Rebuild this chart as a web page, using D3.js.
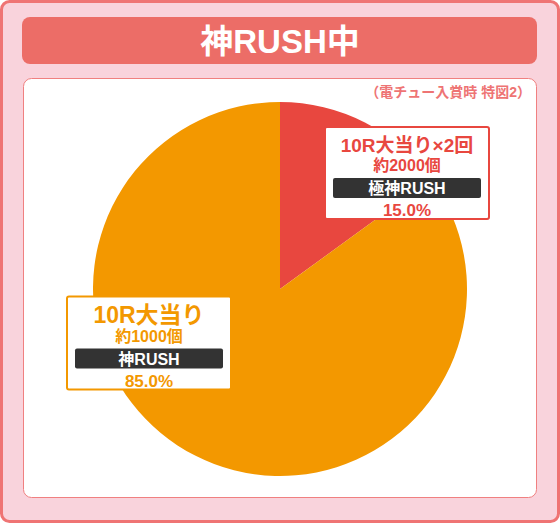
<!DOCTYPE html>
<html lang="ja">
<head>
<meta charset="UTF-8">
<script src="https://d3js.org/d3.v7.min.js"></script>
<title>神RUSH中</title>
<style>
    body { margin: 0; padding: 0; background: #fff; }
    svg { display: block; font-family: "Liberation Sans", "Noto Sans CJK JP", sans-serif; font-weight: 700; }
</style>
</head>
<body>
<svg id="chart" width="560" height="523"></svg>
<script>
    // chart data
    const titleText = "神RUSH中";
    const noteText = "（電チュー入賞時 特図2）";
    const hitNames = ["10R大当り×2回", "10R大当り"];
    const ballCounts = ["約2000個", "約1000個"];
    const rushNames = ["極神RUSH", "神RUSH"];
    const shares = [15.0, 85.0];
    const sliceColors = ["#e8473f", "#f39800"];

    const svg = d3.select("#chart");
    const W = 560, H = 523;

    // outer frame
    svg.append("rect")
        .attr("x", 1.5).attr("y", 1.5)
        .attr("width", W - 3).attr("height", H - 3)
        .attr("rx", 8)
        .attr("fill", "#f9d3dc")
        .attr("stroke", "#ef7474")
        .attr("stroke-width", 3);

    // title bar
    svg.append("rect")
        .attr("x", 22).attr("y", 17)
        .attr("width", 515).attr("height", 47)
        .attr("rx", 8)
        .attr("fill", "#ec6d67");
    svg.append("text")
        .attr("x", 280).attr("y", 53)
        .attr("text-anchor", "middle")
        .attr("fill", "#fff")
        .attr("font-size", 33)
        .text(titleText);

    // white panel
    svg.append("rect")
        .attr("x", 23.5).attr("y", 78.5)
        .attr("width", 513).attr("height", 419)
        .attr("rx", 8)
        .attr("fill", "#fff")
        .attr("stroke", "#f08080")
        .attr("stroke-width", 1);
    svg.append("text")
        .attr("x", 531).attr("y", 97)
        .attr("text-anchor", "end")
        .attr("fill", "#ee7474")
        .attr("font-size", 14)
        .text(noteText);

    // pie
    const cx = 280, cy = 289, r = 187;
    const pie = d3.pie().sort(null).value(d => d);
    const arc = d3.arc().innerRadius(0).outerRadius(r);
    const g = svg.append("g").attr("transform", `translate(${cx},${cy})`);
    const arcs = pie(shares);
    g.selectAll("path")
        .data(arcs)
        .join("path")
        .attr("d", arc)
        .attr("fill", (d, i) => sliceColors[i]);

    // label boxes (layout: box centre offsets from pie centre)
    const boxLayout = [
        { dx: 127, dy: -116, w: 164, h: 92, head: 19, gap: 0 },
        { dx: -131, dy: 54, w: 164, h: 93, head: 23, gap: 1 }
    ];

    arcs.forEach((a, i) => {
        const L = boxLayout[i];
        const bx = cx + L.dx, by = cy + L.dy;
        const col = sliceColors[i];
        const lg = svg.append("g").attr("transform", `translate(${bx},${by})`);
        lg.append("rect")
            .attr("x", -L.w / 2).attr("y", -L.h / 2)
            .attr("width", L.w).attr("height", L.h)
            .attr("rx", 2)
            .attr("fill", "#fff")
            .attr("stroke", col)
            .attr("stroke-width", 2);
        lg.append("text")
            .attr("x", 0).attr("y", -L.h / 2 + 25 + L.gap)
            .attr("text-anchor", "middle")
            .attr("fill", col)
            .attr("font-size", L.head)
            .text(hitNames[i]);
        lg.append("text")
            .attr("x", 0).attr("y", -L.h / 2 + 44 + L.gap)
            .attr("text-anchor", "middle")
            .attr("fill", col)
            .attr("font-size", 16)
            .text(ballCounts[i]);
        lg.append("rect")
            .attr("x", -L.w / 2 + 8).attr("y", -L.h / 2 + 51 + L.gap)
            .attr("width", L.w - 16).attr("height", 20)
            .attr("rx", 2)
            .attr("fill", "#333");
        lg.append("text")
            .attr("x", 0).attr("y", -L.h / 2 + 67 + L.gap)
            .attr("text-anchor", "middle")
            .attr("fill", "#fff")
            .attr("font-size", 16)
            .text(rushNames[i]);
        lg.append("text")
            .attr("x", 0).attr("y", -L.h / 2 + 89 + L.gap)
            .attr("text-anchor", "middle")
            .attr("fill", col)
            .attr("font-size", 17)
            .text(d3.format(".1f")(a.data) + "%");
    });
</script>
</body>
</html>
